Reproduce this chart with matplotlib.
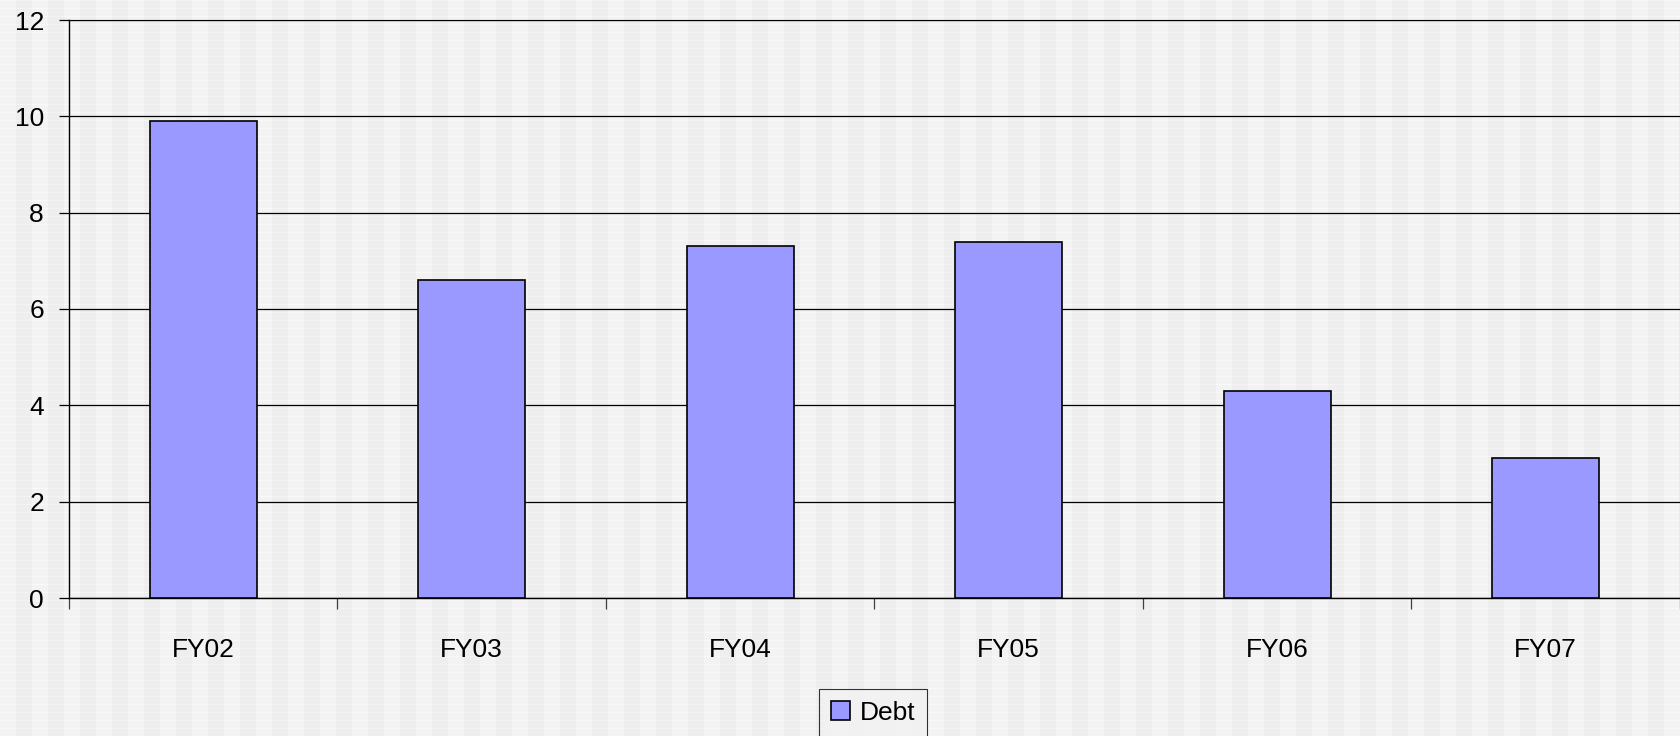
import numpy as np
import matplotlib.pyplot as plt

years = ['FY02', 'FY03', 'FY04', 'FY05', 'FY06', 'FY07']
debt = [9.9, 6.6, 7.3, 7.4, 4.3, 2.9]

plt.rcParams['font.family'] = ['Liberation Sans', 'DejaVu Sans']

W, H = 1681, 736
fig = plt.figure(figsize=(W / 100, H / 100), dpi=100)

# checkered light gray backdrop
bg = fig.add_axes([0, 0, 1, 1], zorder=-10)
xx, yy = np.meshgrid(np.arange(W), np.arange(H))
pat = np.where((xx // 16) % 2 == 0, 0.955, 0.93)
pat = np.where(yy % 8 == 0, np.minimum(pat + 0.02, 0.975), pat)
bg.imshow(pat, cmap='gray', vmin=0, vmax=1, aspect='auto', interpolation='nearest')
bg.axis('off')

ax = fig.add_axes([69 / W, 138 / H, (1680 - 69) / W, (598 - 20) / H])
ax.patch.set_alpha(0)

x = np.arange(len(years))
bars = ax.bar(x, debt, width=0.4, color='#9999ff', edgecolor='black', linewidth=1.2,
              label='Debt', zorder=3)

ax.set_xlim(-0.5, len(years) - 0.5)
ax.set_ylim(0, 12)
ax.set_yticks(range(0, 13, 2))
ax.yaxis.grid(True, color='black', linewidth=0.9, zorder=1)
ax.set_axisbelow(True)

ax.set_xticks(np.arange(-0.5, len(years), 1.0))
ax.set_xticklabels([])
ax.set_xticks(x, minor=True)
ax.set_xticklabels(years, minor=True)
ax.tick_params(axis='x', which='major', length=8, width=0.9, direction='out', color='#404040')
ax.tick_params(axis='x', which='minor', length=0, pad=29, labelsize=19)
ax.tick_params(axis='y', length=7, width=0.9, direction='out', pad=11, labelsize=19)

for s in ['left', 'bottom']:
    ax.spines[s].set_color('black')
    ax.spines[s].set_linewidth(1.0)
ax.spines['top'].set_color('black')
ax.spines['right'].set_color('#606060')

leg = fig.legend(handles=[bars], labels=['Debt'], loc='upper left',
                 bbox_to_anchor=(819 / W, 1 - 689 / H), fontsize=19,
                 frameon=True, fancybox=False, edgecolor='black',
                 handlelength=0.72, handleheight=0.72, handletextpad=0.38,
                 borderpad=0.45, borderaxespad=0)
leg.get_frame().set_facecolor('#f2f2f2')
leg.get_frame().set_linewidth(0.8)

fig.savefig('out.png', dpi=100)
